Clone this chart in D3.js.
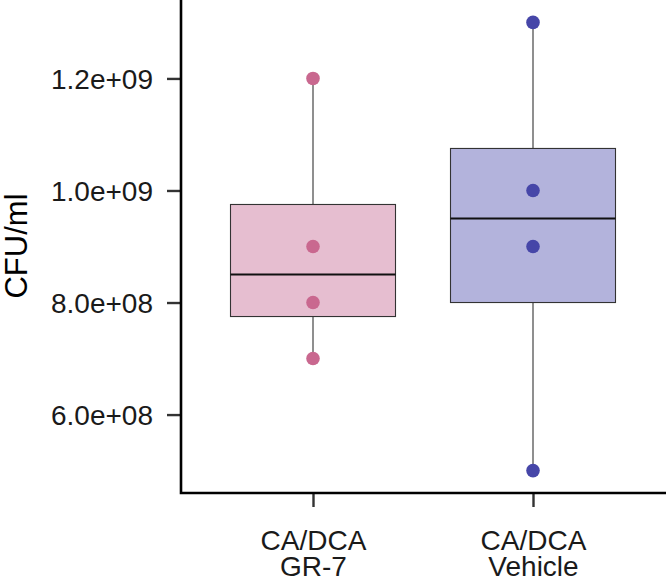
<!DOCTYPE html>
<html><head><meta charset="utf-8">
<script src="https://cdn.jsdelivr.net/npm/d3@7"></script>
<style>body{margin:0;background:#fff}svg{display:block}text{font-family:"Liberation Sans",Arial,sans-serif}</style>
</head><body>
<svg id="c" width="666" height="578"></svg>
<script>
const categories = [["CA/DCA","GR-7"],["CA/DCA","Vehicle"]];
const valuesGR7 = [7e8, 8e8, 9e8, 1.2e9];
const valuesVehicle = [5e8, 9e8, 1e9, 1.3e9];
const yTicks = [6e8, 8e8, 1e9, 1.2e9];
const yTickLabels = ["6.0e+08","8.0e+08","1.0e+09","1.2e+09"];
const fills = ["#e6bed0", "#b3b3dc"];
const pointColors = ["#c9688f", "#4646a8"];

const series = [valuesGR7, valuesVehicle];
const svg = d3.select("#c");
const x = d3.scaleLinear().domain([0.4, 2.6]).range([181, 665]);
const y = d3.scaleLinear().domain([4.6e8, 1.34e9]).range([493, 0]);

function quant(arr, p){ const s=[...arr].sort((a,b)=>a-b); return d3.quantileSorted(s,p); }

series.forEach((vals, i) => {
  const cx = x(i+1);
  const q1 = quant(vals,0.25), med = quant(vals,0.5), q3 = quant(vals,0.75);
  const iqr = q3-q1;
  const lo = d3.min(vals.filter(v=>v>=q1-1.5*iqr));
  const hi = d3.max(vals.filter(v=>v<=q3+1.5*iqr));
  const hw = (x(1.375)-x(1));
  const g = svg.append("g");
  g.append("line").attr("x1",cx).attr("x2",cx).attr("y1",y(hi)).attr("y2",y(q3)).attr("stroke","#333").attr("stroke-width",1.1);
  g.append("line").attr("x1",cx).attr("x2",cx).attr("y1",y(q1)).attr("y2",y(lo)).attr("stroke","#333").attr("stroke-width",1.1);
  g.append("rect").attr("x",cx-hw).attr("width",2*hw).attr("y",y(q3)).attr("height",y(q1)-y(q3))
    .attr("fill",fills[i]).attr("stroke","#333").attr("stroke-width",1.1);
  g.append("line").attr("x1",cx-hw).attr("x2",cx+hw).attr("y1",y(med)).attr("y2",y(med)).attr("stroke","#111").attr("stroke-width",2.2);
  g.selectAll("circle").data(vals).join("circle").attr("cx",cx).attr("cy",d=>y(d)).attr("r",6.8).attr("fill",pointColors[i]);
});

// Y axis
const ya = svg.append("g").attr("transform","translate(181,0)")
  .call(d3.axisLeft(y).tickValues(yTicks).tickFormat((d,i)=>yTickLabels[i]).tickSize(14).tickPadding(14));
ya.select(".domain").remove();
ya.selectAll(".tick line").attr("stroke","#333").attr("stroke-width",2.4);
ya.selectAll(".tick text").attr("font-size",28).attr("fill","#1a1a1a").attr("font-family","Liberation Sans, Arial, sans-serif").attr("dy","0.35em");

// X axis
const xa = svg.append("g").attr("transform","translate(0,493)")
  .call(d3.axisBottom(x).tickValues([1,2]).tickFormat("").tickSize(14));
xa.select(".domain").remove();
xa.selectAll(".tick line").attr("stroke","#333").attr("stroke-width",2.4);
xa.selectAll(".tick").append("text").attr("fill","#1a1a1a").attr("font-size",28).attr("text-anchor","middle")
  .attr("font-family","Liberation Sans, Arial, sans-serif")
  .each(function(d){
    const t = d3.select(this);
    categories[d-1].forEach((s,k)=>t.append("tspan").attr("x",0).attr("y",57+k*26).text(s));
  });

// axis lines
svg.append("path").attr("d",`M181,0V493H666`).attr("fill","none").attr("stroke","#000").attr("stroke-width",2.6);

// y title
svg.append("text").attr("transform","translate(27,246) rotate(-90)").attr("text-anchor","middle")
  .attr("font-size",31).attr("fill","#000").text("CFU/ml");
</script>
</body></html>
